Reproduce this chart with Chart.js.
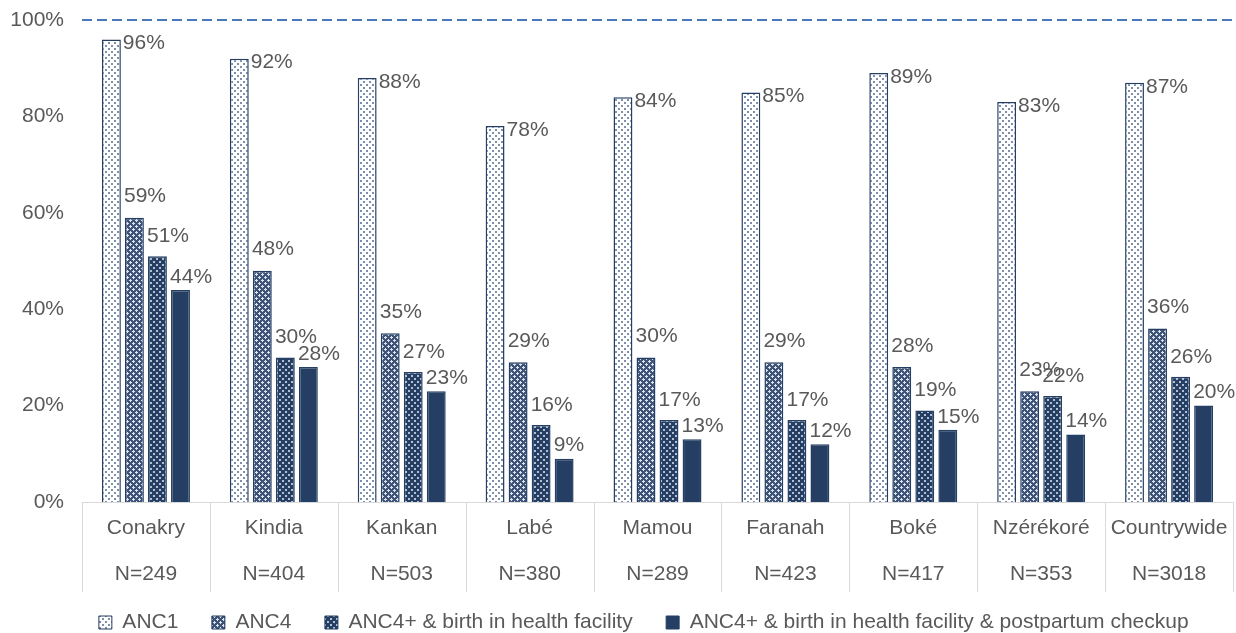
<!DOCTYPE html>
<html>
<head>
<meta charset="utf-8">
<script src="https://cdn.jsdelivr.net/npm/chart.js@4/dist/chart.umd.min.js"></script>
<style>
  body { margin: 0; background: #fff; }
  canvas { display: block; }
</style>
</head>
<body>
<canvas id="chart" width="1236" height="633"></canvas>
<script>
const regions = ['Conakry', 'Kindia', 'Kankan', 'Labé', 'Mamou', 'Faranah', 'Boké', 'Nzérékoré', 'Countrywide'];
const sampleSizes = ['N=249', 'N=404', 'N=503', 'N=380', 'N=289', 'N=423', 'N=417', 'N=353', 'N=3018'];
const seriesNames = ['ANC1', 'ANC4', 'ANC4+ & birth in health facility', 'ANC4+ & birth in health facility & postpartum checkup'];
const anc1 = [96, 92, 88, 78, 84, 85, 89, 83, 87];
const anc4 = [59, 48, 35, 29, 30, 29, 28, 23, 36];
const anc4Birth = [51, 30, 27, 16, 17, 17, 19, 22, 26];
const anc4BirthPostpartum = [44, 28, 23, 9, 13, 12, 15, 14, 20];
const yTicks = [0, 20, 40, 60, 80, 100];

const navy = '#243f63';
const textGrey = '#595959';
const FONT = '"Liberation Sans", Arial, sans-serif';
const FS = 21;

// small tile -> repeating fill
const makePattern = (bg, fg, cells, size) => {
    const c = document.createElement('canvas');
    c.width = 6; c.height = 6;
    const g = c.getContext('2d');
    g.fillStyle = bg;
    g.fillRect(0, 0, 6, 6);
    g.fillStyle = fg;
    cells.forEach(([x, y]) => g.fillRect(x, y, size, size));
    return g.createPattern(c, 'repeat');
};

const ctx = document.getElementById('chart').getContext('2d');
const fills = [
    makePattern('#ffffff', '#7d8fab', [[0, 0], [3, 3]], 2),
    makePattern('#3d5377', '#dde3ec', [[1, 0], [0, 1], [1, 1], [2, 1], [1, 2], [4, 3], [3, 4], [4, 4], [5, 4], [4, 5]], 1),
    makePattern(navy, '#b4c0d2', [[0, 0], [3, 3]], 2),
    navy
];
const values = [anc1, anc4, anc4Birth, anc4BirthPostpartum];

// value labels placed the way the original places them
const labelOffsets = [{ dx: 'right', dy: 4 }, { dx: 'left', dy: -21 }, { dx: 'left', dy: -20 }, { dx: 'left', dy: -13 }];
const valueLabels = {
    id: 'valueLabels',
    afterDatasetsDraw(chart) {
        const c = chart.ctx;
        c.save();
        c.font = FS + 'px ' + FONT;
        c.fillStyle = textGrey;
        c.textAlign = 'left';
        c.textBaseline = 'middle';
        chart.data.datasets.forEach((ds, i) => {
            chart.getDatasetMeta(i).data.forEach((bar, j) => {
                const off = labelOffsets[i];
                const x = off.dx === 'right' ? bar.x + bar.width / 2 + 2 : bar.x - bar.width / 2 - 1;
                c.fillText(ds.data[j] + '%', x, bar.y + off.dy);
            });
        });
        c.restore();
    }
};

// dashed 100% line, category separators below the axis
const decorations = {
    id: 'decorations',
    afterLayout(chart) {
        // original legend sits a little right of centre
        chart.legend.left += 36;
        chart.legend.right += 36;
    },
    beforeDatasetsDraw(chart) {
        const c = chart.ctx;
        const area = chart.chartArea;
        const xs = chart.scales.x;
        const y100 = chart.scales.y.getPixelForValue(100);
        c.save();
        c.strokeStyle = '#4a78b8';
        c.lineWidth = 2;
        c.setLineDash([10, 5]);
        c.beginPath();
        c.moveTo(area.left, y100);
        c.lineTo(chart.width, y100);
        c.stroke();
        c.setLineDash([]);
        c.strokeStyle = '#d9d9d9';
        c.lineWidth = 1;
        c.beginPath();
        c.moveTo(area.left, area.bottom + 0.5);
        c.lineTo(area.right, area.bottom + 0.5);
        const step = xs.getPixelForValue(1) - xs.getPixelForValue(0);
        for (let k = 0; k <= regions.length; k++) {
            const x = Math.round(xs.getPixelForValue(0) - step / 2 + k * step) + 0.5;
            c.moveTo(x, area.bottom);
            c.lineTo(x, area.bottom + 90);
        }
        c.stroke();
        c.restore();
    }
};

new Chart(ctx, {
    type: 'bar',
    data: {
        labels: regions.map((r, i) => [r, sampleSizes[i]]),
        datasets: seriesNames.map((name, i) => ({
            label: name,
            data: values[i],
            backgroundColor: fills[i],
            borderColor: navy,
            borderWidth: 1.5,
            categoryPercentage: 0.72,
            barPercentage: 0.82
        }))
    },
    options: {
        responsive: false,
        animation: false,
        layout: { padding: { top: 0, right: 3, bottom: -10, left: 0 } },
        plugins: {
            legend: {
                position: 'bottom',
                labels: {
                    font: { size: FS, family: FONT },
                    color: textGrey,
                    boxWidth: 13,
                    boxHeight: 13,
                    padding: 16,
                    generateLabels(chart) {
                        return Chart.defaults.plugins.legend.labels.generateLabels(chart)
                            .map(item => Object.assign(item, { text: item.text + '   ', lineWidth: 1 }));
                    }
                }
            },
            tooltip: { enabled: false }
        },
        scales: {
            x: {
                grid: { display: false, drawTicks: false },
                border: { display: false },
                ticks: {
                    font: { size: FS, family: FONT, lineHeight: 2.19 },
                    color: textGrey,
                    padding: 3,
                    maxRotation: 0,
                    autoSkip: false
                },
                afterFit(scale) { scale.height = 94; }
            },
            y: {
                min: 0,
                max: 100,
                afterBuildTicks(scale) { scale.ticks = yTicks.map(v => ({ value: v })); },
                grid: { display: false, drawTicks: false },
                border: { display: false },
                ticks: {
                    font: { size: FS, family: FONT, lineHeight: 0.2 },
                    color: textGrey,
                    padding: 18,
                    callback: v => v + '%'
                },
                afterFit(scale) { scale.width = 82; }
            }
        }
    },
    plugins: [decorations, valueLabels]
});
</script>
</body>
</html>
